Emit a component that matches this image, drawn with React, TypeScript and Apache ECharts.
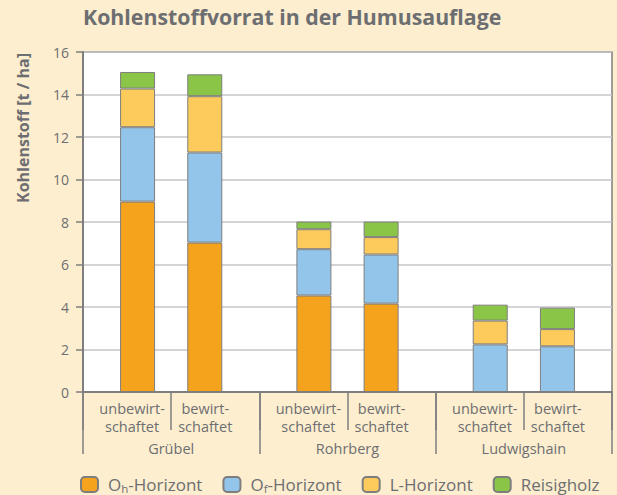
import React, { useEffect, useRef } from "react";
import * as echarts from "echarts";

const groups = ["Grübel", "Rohrberg", "Ludwigshain"];
const subLabels = ["unbewirt-\nschaftet", "bewirt-\nschaftet"];
const layerNames = ["Oh-Horizont", "Of-Horizont", "L-Horizont", "Reisigholz"];
const yTicks = { min: 0, max: 16, interval: 2 };

// values per group (Grübel, Rohrberg, Ludwigshain)
const ohUnbewirt = [8.96, 4.54, 0];
const ofUnbewirt = [3.5, 2.18, 2.24];
const lUnbewirt = [1.82, 0.94, 1.12];
const reisigUnbewirt = [0.78, 0.36, 0.75];

const ohBewirt = [7.03, 4.16, 0];
const ofBewirt = [4.24, 2.31, 2.15];
const lBewirt = [2.65, 0.82, 0.81];
const reisigBewirt = [1.03, 0.73, 1.01];

const colors = ["#f5a31c", "#93c5ea", "#fdca5c", "#8bc548"];
const gray = "#6d6e71";
const lineGray = "#7e7e7e";
const font = "Open Sans";

export default function App() {
  const ref = useRef<HTMLDivElement>(null);
  useEffect(() => {
    if (!ref.current) return;
    const chart = echarts.init(ref.current, undefined, { renderer: "svg" });
    const unb = [ohUnbewirt, ofUnbewirt, lUnbewirt, reisigUnbewirt];
    const bew = [ohBewirt, ofBewirt, lBewirt, reisigBewirt];
    const series: any[] = [];
    layerNames.forEach((name, i) => {
      [
        { stack: "u", data: unb[i] },
        { stack: "b", data: bew[i] },
      ].forEach((s) => {
        series.push({
          type: "bar",
          name,
          stack: s.stack,
          data: s.data,
          xAxisIndex: 0,
          barWidth: 35,
          barGap: "92%",
          itemStyle: { color: colors[i], borderColor: lineGray, borderWidth: 1 },
          emphasis: { disabled: true },
        });
      });
    });
    const subData: any[] = [];
    groups.forEach(() => {
      subData.push({ value: subLabels[0], textStyle: { padding: [0, 0, 0, 10] } });
      subData.push({ value: subLabels[1], textStyle: { padding: [0, 20, 0, 0] } });
    });
    const legendFmt = (name: string) => {
      if (name === "Oh-Horizont") return "{m|O}{s|h}{m|-Horizont}";
      if (name === "Of-Horizont") return "{m|O}{s|f}{m|-Horizont}";
      return "{m|" + name + "}";
    };
    chart.setOption({
      animation: false,
      backgroundColor: "#fdeecf",
      title: {
        text: "Kohlenstoffvorrat in der Humusauflage",
        left: 83,
        top: 6,
        padding: 0,
        textStyle: { fontFamily: font, fontSize: 21.3, fontWeight: "bold", color: gray },
      },
      grid: {
        left: 83,
        right: 5,
        top: 52,
        bottom: 103,
        show: true,
        backgroundColor: "#ffffff",
        borderColor: lineGray,
        borderWidth: 1.5,
      },
      legend: {
        data: layerNames,
        left: 80,
        top: 476,
        padding: 0,
        itemWidth: 17,
        itemHeight: 15,
        itemGap: 20,
        formatter: legendFmt,
        textStyle: {
          color: gray,
          fontFamily: font,
          fontSize: 17,
          padding: [0, 0, 0, 5],
          rich: {
            m: { fontFamily: font, fontSize: 17, color: gray, lineHeight: 19 },
            s: { fontFamily: font, fontSize: 11.5, color: gray, lineHeight: 11, verticalAlign: "bottom" },
          },
        },
      },
      xAxis: [
        {
          type: "category",
          data: groups,
          position: "bottom",
          axisLine: { lineStyle: { color: lineGray, width: 2 } },
          axisTick: { show: true, length: 62, interval: 0, lineStyle: { color: lineGray, width: 1.5 } },
          axisLabel: { margin: 47, fontFamily: font, fontSize: 14.5, color: gray, lineHeight: 18, interval: 0 },
        },
        {
          type: "category",
          data: subData,
          position: "bottom",
          axisLine: { show: false },
          axisTick: { show: true, length: 38, interval: 0, lineStyle: { color: lineGray, width: 1.5 } },
          axisLabel: { margin: 7, fontFamily: font, fontSize: 14.5, color: gray, lineHeight: 18, interval: 0 },
        },
      ],
      yAxis: {
        type: "value",
        min: yTicks.min,
        max: yTicks.max,
        interval: yTicks.interval,
        axisLine: { show: true, lineStyle: { color: lineGray, width: 2 } },
        axisTick: { show: true, length: 7, lineStyle: { color: lineGray, width: 1.5 } },
        axisLabel: { margin: 14, fontFamily: font, fontSize: 14, color: gray },
        splitLine: { lineStyle: { color: "#c6c6c8", width: 1.5 } },
      },
      graphic: [
        {
          type: "text",
          x: 23,
          y: 128,
          rotation: Math.PI / 2,
          style: {
            text: "Kohlenstoff [t / ha]",
            fontFamily: font,
            fontSize: 16,
            fontWeight: "bold",
            fill: gray,
            align: "center",
            verticalAlign: "middle",
          },
        },
      ],
      series,
    });
    return () => chart.dispose();
  }, []);
  return <div ref={ref} style={{ position: "fixed", left: 0, top: 0, width: 617, height: 495 }} />;
}
